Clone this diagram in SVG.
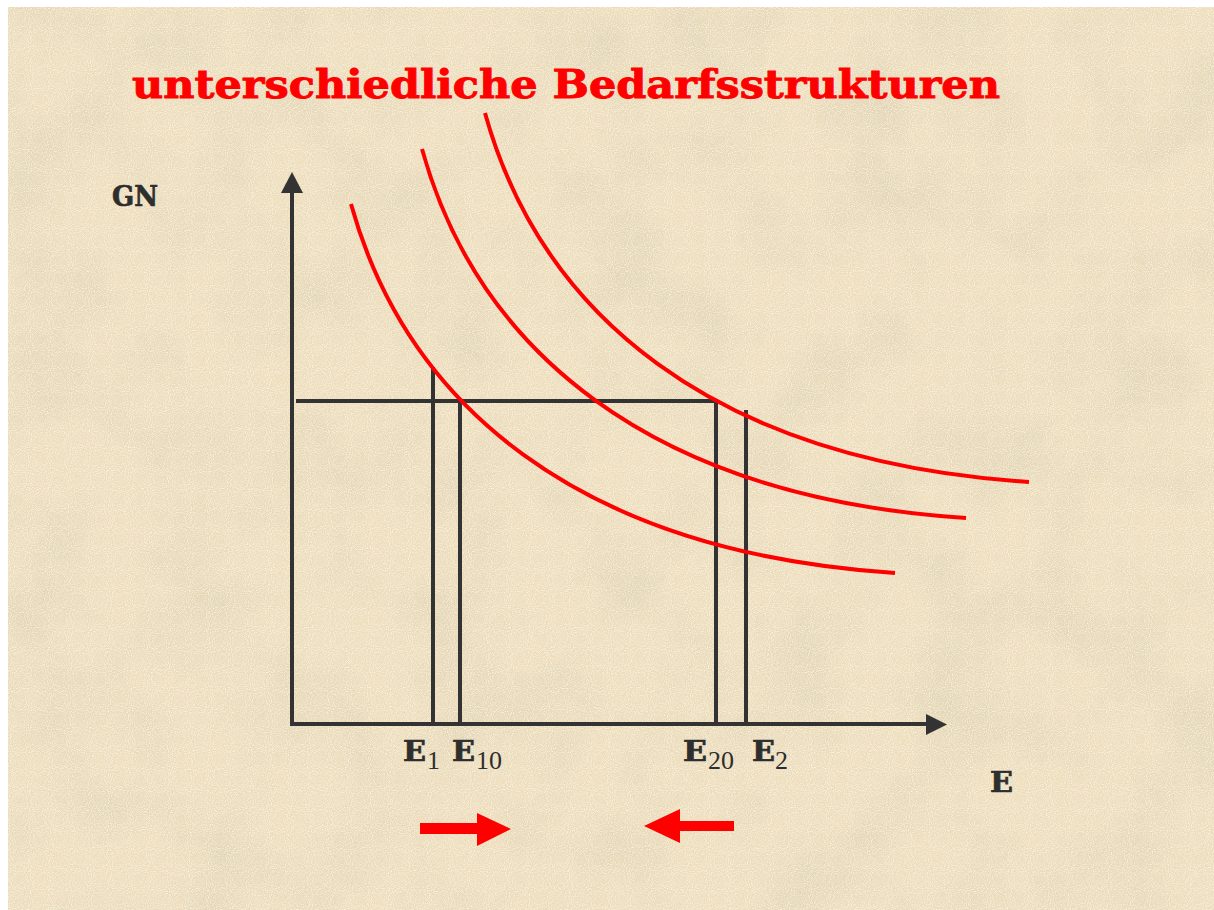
<svg xmlns="http://www.w3.org/2000/svg" xmlns:xlink="http://www.w3.org/1999/xlink" width="1214" height="910" viewBox="0 0 1214 910">
  <style>
    .axis { stroke: #333333; stroke-width: 4; fill: none; }
    .guide { stroke: #333333; stroke-width: 4; fill: none; }
    .head { fill: #333333; }
    .curve { stroke: #ff0000; stroke-width: 4; fill: none; stroke-linecap: butt; }
    .redarrow { fill: #ff0000; }
    .title { font-family: "DejaVu Serif", "Liberation Serif", serif; font-weight: bold; font-size: 39px; fill: #ff0000; stroke: #ff0000; stroke-width: 0.9; }
    .lab { font-family: "DejaVu Serif", "Liberation Serif", serif; font-weight: bold; fill: #2e2e2e; stroke: #2e2e2e; stroke-width: 0.7; }
    .sub { font-family: "Liberation Serif", "DejaVu Serif", serif; font-weight: normal; font-size: 26px; fill: #2e2e2e; }
  </style>
  <defs>
    <filter id="blotch" x="0" y="0" width="100%" height="100%">
      <feTurbulence type="fractalNoise" baseFrequency="0.012" numOctaves="4" seed="7" result="n"/>
      <feColorMatrix in="n" type="matrix" values="0 0 0 0 0.76  0 0 0 0 0.66  0 0 0 0 0.46  2.0 0 0 0 -0.82"/>
    </filter>
    <filter id="grain" x="0" y="0" width="100%" height="100%">
      <feTurbulence type="fractalNoise" baseFrequency="0.95" numOctaves="1" seed="2" result="g"/>
      <feColorMatrix in="g" type="matrix" values="0 0 0 0 1  0 0 0 0 0.97  0 0 0 0 0.88  2.4 0 0 0 -1.05"/>
    </filter>
    <filter id="grain2" x="0" y="0" width="100%" height="100%">
      <feTurbulence type="fractalNoise" baseFrequency="0.8" numOctaves="1" seed="11" result="g"/>
      <feColorMatrix in="g" type="matrix" values="0 0 0 0 0.78  0 0 0 0 0.68  0 0 0 0 0.5  2.0 0 0 0 -0.95"/>
    </filter>
    <path id="curveShape" d="M351,204 C406,402 575,552 895,573"/>
  </defs>

  <g id="background">
    <rect x="0" y="0" width="1214" height="910" fill="#ffffff"/>
    <rect x="8" y="7" width="1206" height="903" fill="#eedebd"/>
    <rect x="8" y="7" width="1206" height="903" filter="url(#blotch)"/>
    <rect x="8" y="7" width="1206" height="903" filter="url(#grain2)" opacity="0.7"/>
    <rect x="8" y="7" width="1206" height="903" filter="url(#grain)" opacity="0.85"/>
  </g>

  <g id="title">
    <text class="title" x="132" y="98" textLength="868" lengthAdjust="spacingAndGlyphs">unterschiedliche Bedarfsstrukturen</text>
  </g>

  <g id="axes">
    <line class="axis" x1="292" y1="190" x2="292" y2="726"/>
    <polygon class="head" points="292,172 281,193 303,193"/>
    <line class="axis" x1="290" y1="724" x2="928" y2="724"/>
    <polygon class="head" points="947,724.5 926,714 926,735"/>
  </g>

  <g id="connectors">
    <line class="guide" x1="296" y1="401" x2="718" y2="401"/>
    <line class="guide" x1="433" y1="367" x2="433" y2="724"/>
    <line class="guide" x1="460" y1="400" x2="460" y2="724"/>
    <line class="guide" x1="716" y1="399" x2="716" y2="724"/>
    <line class="guide" x1="746" y1="410" x2="746" y2="724"/>
  </g>

  <g id="curves">
    <use id="curve1" class="curve" xlink:href="#curveShape" href="#curveShape"/>
    <use id="curve2" class="curve" xlink:href="#curveShape" href="#curveShape" transform="translate(71,-55)"/>
    <use id="curve3" class="curve" xlink:href="#curveShape" href="#curveShape" transform="translate(134,-91)"/>
  </g>

  <g id="label-GN">
    <text class="lab" x="112" y="206" font-size="27" textLength="46" lengthAdjust="spacingAndGlyphs">GN</text>
  </g>
  <g id="label-E">
    <text class="lab" x="990" y="792" font-size="27" textLength="23" lengthAdjust="spacingAndGlyphs">E</text>
  </g>
  <g id="label-E1">
    <text class="lab" x="403" y="761" font-size="27" textLength="23" lengthAdjust="spacingAndGlyphs">E</text>
    <text class="sub" x="427" y="769">1</text>
  </g>
  <g id="label-E10">
    <text class="lab" x="452" y="761" font-size="27" textLength="23" lengthAdjust="spacingAndGlyphs">E</text>
    <text class="sub" x="476" y="769">10</text>
  </g>
  <g id="label-E20">
    <text class="lab" x="683" y="761" font-size="27" textLength="24" lengthAdjust="spacingAndGlyphs">E</text>
    <text class="sub" x="708" y="769">20</text>
  </g>
  <g id="label-E2">
    <text class="lab" x="752" y="761" font-size="27" textLength="23" lengthAdjust="spacingAndGlyphs">E</text>
    <text class="sub" x="775" y="769">2</text>
  </g>

  <g id="arrow-right">
    <polygon class="redarrow" points="420,823 477,823 477,813 511,829 477,846 477,834 420,834"/>
  </g>
  <g id="arrow-left">
    <polygon class="redarrow" points="734,821 680,821 680,809 644,826 680,843 680,831 734,831"/>
  </g>
</svg>
